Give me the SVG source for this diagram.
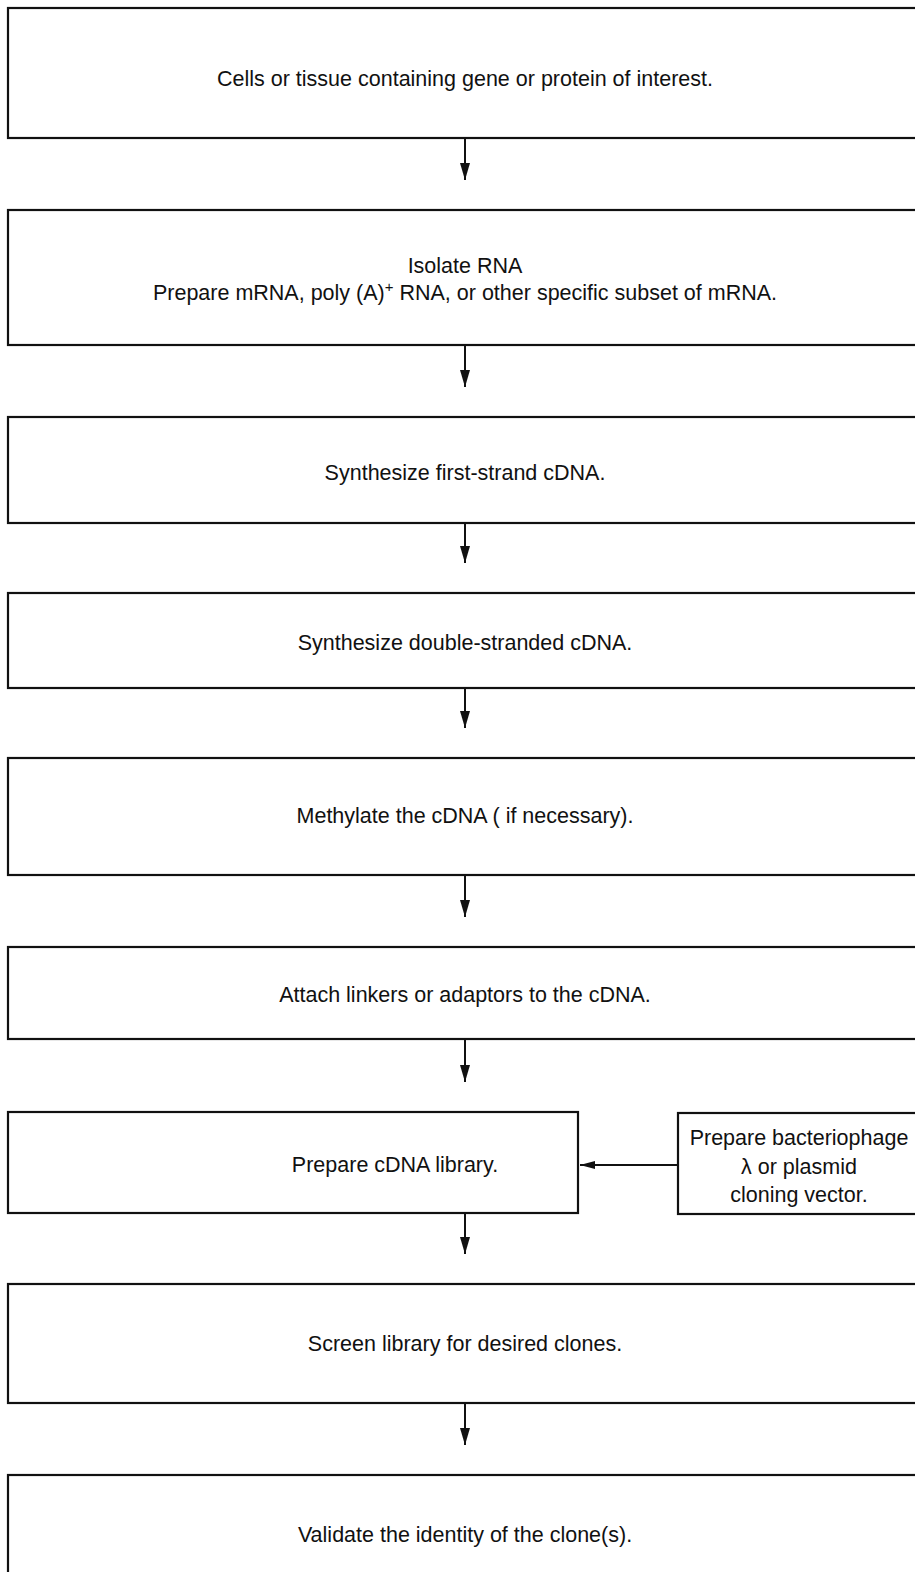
<svg xmlns="http://www.w3.org/2000/svg" width="915" height="1572" viewBox="0 0 915 1572">
<style>
.box{fill:#fff;stroke:#111;stroke-width:2.2}
.t{font-family:"Liberation Sans",Arial,sans-serif;font-size:21.5px;fill:#111;text-anchor:middle}
.c{stroke:#111;stroke-width:2;fill:none}
</style>
<defs>
<marker id="ah" markerUnits="userSpaceOnUse" markerWidth="17" markerHeight="10" refX="17" refY="5" viewBox="0 0 17 10" orient="auto">
<path d="M0,0 L17,5 L0,10 Z" fill="#111"/>
</marker>
<marker id="ah2" markerUnits="userSpaceOnUse" markerWidth="15" markerHeight="8" refX="15" refY="4" viewBox="0 0 15 8" orient="auto">
<path d="M0,0 L15,4 L0,8 Z" fill="#111"/>
</marker>
</defs>
<rect width="915" height="1572" fill="#fff"/>
<g id="n1"><rect class="box" x="8" y="8" width="920" height="130"/><text class="t" x="465" y="86">Cells or tissue containing gene or protein of interest.</text></g>
<g id="n2"><rect class="box" x="8" y="210" width="920" height="135"/><text class="t" x="465" y="273">Isolate RNA</text><text class="t" x="465" y="300">Prepare mRNA, poly (A)<tspan dy="-8" font-size="15">+</tspan><tspan dy="8"> RNA, or other specific subset of mRNA.</tspan></text></g>
<g id="n3"><rect class="box" x="8" y="417" width="920" height="106"/><text class="t" x="465" y="480">Synthesize first-strand cDNA.</text></g>
<g id="n4"><rect class="box" x="8" y="593" width="920" height="95"/><text class="t" x="465" y="650">Synthesize double-stranded cDNA.</text></g>
<g id="n5"><rect class="box" x="8" y="758" width="920" height="117"/><text class="t" x="465" y="823">Methylate the cDNA ( if necessary).</text></g>
<g id="n6"><rect class="box" x="8" y="947" width="920" height="92"/><text class="t" x="465" y="1002">Attach linkers or adaptors to the cDNA.</text></g>
<g id="n7"><rect class="box" x="8" y="1112" width="570" height="101"/><text class="t" x="395" y="1172">Prepare cDNA library.</text></g>
<g id="n7b"><rect class="box" x="678" y="1113" width="250" height="101"/><text class="t" x="799" y="1145">Prepare bacteriophage</text><text class="t" x="799" y="1174">λ or plasmid</text><text class="t" x="799" y="1202">cloning vector.</text></g>
<g id="n8"><rect class="box" x="8" y="1284" width="920" height="119"/><text class="t" x="465" y="1351">Screen library for desired clones.</text></g>
<g id="n9"><rect class="box" x="8" y="1475" width="920" height="120"/><text class="t" x="465" y="1542">Validate the identity of the clone(s).</text></g>
<g id="connectors">
<line class="c" x1="465" y1="138" x2="465" y2="180" marker-end="url(#ah)"/>
<line class="c" x1="465" y1="345" x2="465" y2="387" marker-end="url(#ah)"/>
<line class="c" x1="465" y1="523" x2="465" y2="563" marker-end="url(#ah)"/>
<line class="c" x1="465" y1="688" x2="465" y2="728" marker-end="url(#ah)"/>
<line class="c" x1="465" y1="875" x2="465" y2="917" marker-end="url(#ah)"/>
<line class="c" x1="465" y1="1039" x2="465" y2="1082" marker-end="url(#ah)"/>
<line class="c" x1="465" y1="1213" x2="465" y2="1254" marker-end="url(#ah)"/>
<line class="c" x1="465" y1="1403" x2="465" y2="1445" marker-end="url(#ah)"/>
<line class="c" x1="678" y1="1165" x2="580" y2="1165" marker-end="url(#ah2)"/>
</g>
</svg>
